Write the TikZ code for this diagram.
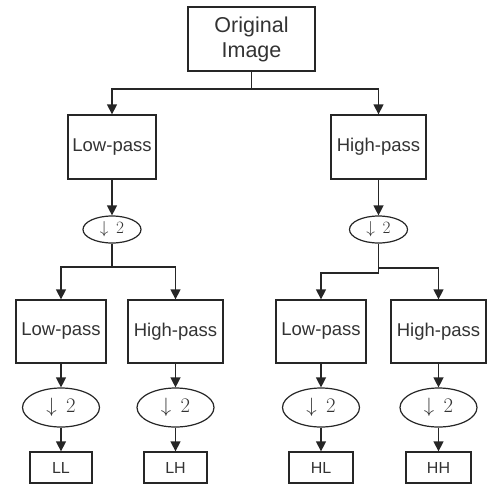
\documentclass[tikz,border=0pt]{standalone}
\usepackage{fontspec}
\setmainfont{Liberation Sans}
\usetikzlibrary{shapes.geometric,arrows.meta}
\tikzset{
  box/.style={draw=black!85, line width=1.3pt, inner sep=0pt, align=center, text=black!80},
  ell/.style={draw=black!85, line width=1.2pt, ellipse, inner sep=0pt, text=black!80},
  arr/.style={draw=black!85, line width=1.3pt, -{Triangle[length=10pt,width=10pt]}},
  ln/.style={draw=black!85, line width=1.3pt},
  ftxt/.style={font=\fontsize{18.5}{21}\selectfont}
}
\begin{document}
\begin{tikzpicture}[x=1pt,y=-1pt]
\useasboundingbox (0,0) rectangle (489,485);
% top
\node[box, minimum width=127pt, minimum height=64pt, font=\fontsize{21.5}{25}\selectfont] (orig) at (251.5,39) {Original\\Image};
% level 1
\node[box, ftxt, minimum width=88pt, minimum height=64pt] (lp1) at (112,147) {Low-pass};
\node[box, ftxt, minimum width=95pt, minimum height=64pt] (hp1) at (378.5,147) {High-pass};
\node[ell, minimum width=58pt, minimum height=27pt, font=\fontsize{17}{20}\selectfont] (e1l) at (112,229.5) {$\downarrow\,2$};
\node[ell, minimum width=58pt, minimum height=27pt, font=\fontsize{17}{20}\selectfont] (e1r) at (378.5,229.5) {$\downarrow\,2$};
% level 2
\node[box, ftxt, minimum width=90pt, minimum height=63pt] (lpa) at (61,331.5) {Low-pass};
\node[box, ftxt, minimum width=95pt, minimum height=63pt] (hpa) at (175.5,331.5) {High-pass};
\node[box, ftxt, minimum width=90pt, minimum height=63pt] (lpb) at (321,331.5) {Low-pass};
\node[box, ftxt, minimum width=95pt, minimum height=63pt] (hpb) at (438.5,331.5) {High-pass};
\node[ell, minimum width=77pt, minimum height=39pt, font=\fontsize{20}{23}\selectfont] (e2a) at (61,407.5) {$\downarrow\,2$};
\node[ell, minimum width=77pt, minimum height=39pt, font=\fontsize{20}{23}\selectfont] (e2b) at (175.5,407.5) {$\downarrow\,2$};
\node[ell, minimum width=77pt, minimum height=39pt, font=\fontsize{20}{23}\selectfont] (e2c) at (321,407.5) {$\downarrow\,2$};
\node[ell, minimum width=77pt, minimum height=39pt, font=\fontsize{20}{23}\selectfont] (e2d) at (438.5,407.5) {$\downarrow\,2$};
% outputs
\node[box, minimum width=62pt, minimum height=31pt, font=\fontsize{16}{19}\selectfont] (ll) at (61,467.5) {LL};
\node[box, minimum width=63pt, minimum height=31pt, font=\fontsize{16}{19}\selectfont] (lh) at (175.5,467.5) {LH};
\node[box, minimum width=64pt, minimum height=31pt, font=\fontsize{16}{19}\selectfont] (hl) at (321,467.5) {HL};
\node[box, minimum width=65pt, minimum height=31pt, font=\fontsize{16}{19}\selectfont] (hh) at (438.5,467.5) {HH};
% connectors
\coordinate (j0) at (orig.south |- 0,89);
\draw[ln] (orig.south) -- (j0);
\draw[arr] (j0) -| (lp1.north);
\draw[arr] (j0) -| (hp1.north);
\draw[arr] (lp1.south) -- (e1l.north);
\draw[arr] (hp1.south) -- (e1r.north);
\coordinate (j1) at (e1l.south |- 0,267);
\draw[ln] (e1l.south) -- (j1);
\draw[arr] (j1) -| (lpa.north);
\draw[arr] (j1) -| (hpa.north);
\coordinate (j2) at (e1r.south |- 0,273);
\coordinate (j3) at (e1r.south |- 0,268);
\draw[ln] (e1r.south) -- (j2);
\draw[arr] (j2) -| (lpb.north);
\draw[arr] (j3) -| (hpb.north);
\draw[arr] (lpa.south) -- (e2a.north);
\draw[arr] (hpa.south) -- (e2b.north);
\draw[arr] (lpb.south) -- (e2c.north);
\draw[arr] (hpb.south) -- (e2d.north);
\draw[arr] (e2a.south) -- (ll.north);
\draw[arr] (e2b.south) -- (lh.north);
\draw[arr] (e2c.south) -- (hl.north);
\draw[arr] (e2d.south) -- (hh.north);
\end{tikzpicture}
\end{document}
